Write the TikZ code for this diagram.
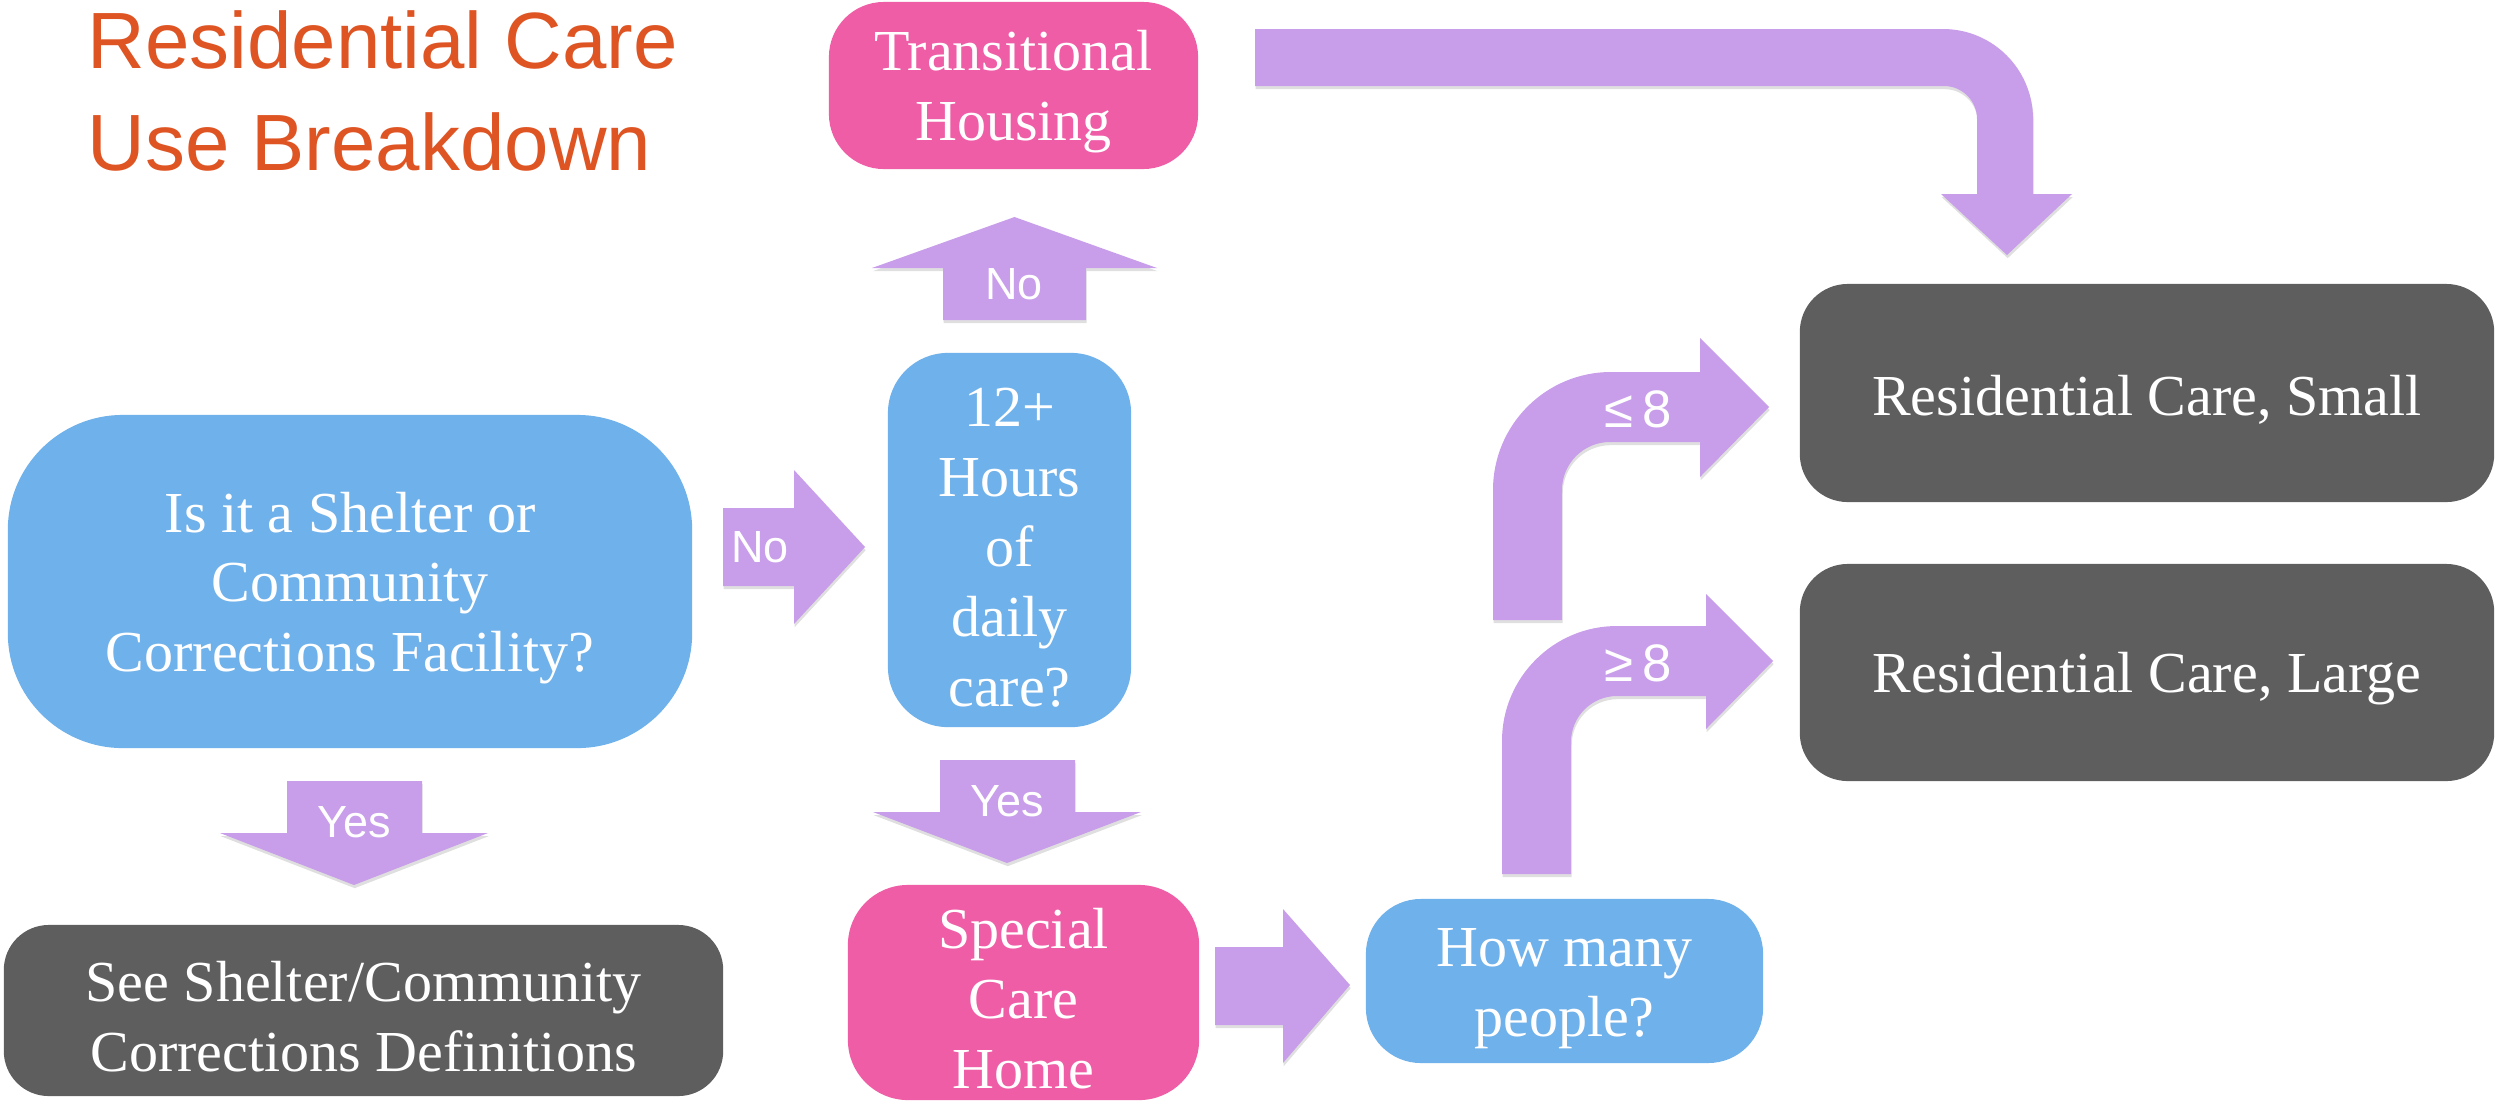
\documentclass[tikz,border=0pt]{standalone}
\usepackage{fontspec}
\setmainfont{Liberation Serif}
\newfontfamily\lsans{Liberation Sans}
\usetikzlibrary{shadows}
\definecolor{pinkbox}{HTML}{EF5DA7}
\definecolor{bluebox}{HTML}{6FB1EA}
\definecolor{graybox}{HTML}{5E5E5E}
\definecolor{arrowc}{HTML}{C89DEA}
\definecolor{titlec}{HTML}{DE5423}
\newcommand\boxfont{\fontsize{16.5}{19.9}\selectfont}
\newcommand\tp{\rule{0pt}{15.2pt}}
\tikzset{
  box/.style={rectangle, rounded corners=#1, text=white, align=center, font=\boxfont, inner sep=0pt},
  blockarrow/.style={fill=arrowc, drop shadow={shadow xshift=0.2pt, shadow yshift=-0.9pt, opacity=0.25}},
  lbl/.style={text=white, inner sep=0pt, font=\lsans\fontsize{12.8}{15}\selectfont},
  cmp/.style={text=white, inner sep=0pt, font=\lsans\fontsize{15}{18}\selectfont},
  ttl/.style={anchor=base west, inner sep=0pt, text=titlec, font=\lsans\fontsize{22.7}{26}\selectfont}
}
\begin{document}
\begin{tikzpicture}[x=0.01cm,y=-0.01cm]
\useasboundingbox (0,0) rectangle (2496,1102);
% title
\node[ttl] (t1) at (87,68) {Residential Care};
\node[ttl] (t2) at (87,170) {Use Breakdown};
% boxes
\node[box=0.55cm, fill=pinkbox, minimum width=3.69cm, minimum height=1.67cm] (tr) at (1013.5,85.5) {\tp Transitional\\Housing};
\node[box=0.6cm, fill=bluebox, minimum width=2.43cm, minimum height=3.74cm] (hrs) at (1009.5,540) {\tp 12+\\Hours\\of\\daily\\care?};
\node[box=1.15cm, fill=bluebox, minimum width=6.84cm, minimum height=3.33cm] (q) at (350,581.5) {\tp Is it a Shelter or\\Community\\Corrections Facility?};
\node[box=0.45cm, fill=graybox, minimum width=7.19cm, minimum height=1.71cm] (see) at (363.5,1010.5) {\tp See Shelter/Community\\Corrections Definitions};
\node[box=0.6cm, fill=pinkbox, minimum width=3.51cm, minimum height=2.15cm] (sch) at (1023.5,992.5) {\tp Special\\Care\\Home};
\node[box=0.55cm, fill=bluebox, minimum width=3.97cm, minimum height=1.64cm] (how) at (1564.5,981) {\tp How many\\people?};
\node[box=0.48cm, fill=graybox, minimum width=6.94cm, minimum height=2.18cm] (small) at (2147,393) {\tp Residential Care, Small};
\node[box=0.48cm, fill=graybox, minimum width=6.94cm, minimum height=2.17cm] (large) at (2147,672.5) {\tp Residential Care, Large};
% block arrows
% No (up)
\path[blockarrow] (943,320) -- (943,268) -- (872,268) -- (1014.5,217) -- (1157,268) -- (1086,268) -- (1086,320) -- cycle;
\node[lbl] (lno1) at (1014,284) {No};
% No (right)
\path[blockarrow] (723,508) -- (794,508) -- (794,470) -- (865,547) -- (794,624) -- (794,586) -- (723,586) -- cycle;
\node[lbl] (lno2) at (760,547) {No};
% Yes (left, down)
\path[blockarrow] (287,781) -- (422,781) -- (422,833) -- (488,833) -- (354,885) -- (220,833) -- (287,833) -- cycle;
\node[lbl] (lyes1) at (354,822) {Yes};
% Yes (right, down)
\path[blockarrow] (940,760) -- (1075,760) -- (1075,812) -- (1141,812) -- (1007,863) -- (873,812) -- (940,812) -- cycle;
\node[lbl] (lyes2) at (1007,801) {Yes};
% Special -> How many
\path[blockarrow] (1215,947) -- (1283,947) -- (1283,909) -- (1350,985) -- (1283,1063) -- (1283,1025) -- (1215,1025) -- cycle;
% top bent arrow
\path[blockarrow] (1255,29) -- (1943,29) .. controls (1992.7,29) and (2033,69.3) .. (2033,119)
  -- (2033,194) -- (2072,194) -- (2007,255) -- (1941,194) -- (1977,194) -- (1977,119)
  .. controls (1977,100.8) and (1962.2,86) .. (1944,86) -- (1255,86) -- cycle;
% <= 8 bent arrow
\path[blockarrow] (1493,620) -- (1493,490) .. controls (1493,424.8) and (1545.8,372) .. (1611,372)
  -- (1700,372) -- (1700,338) -- (1769,407) -- (1700,477) -- (1700,442) -- (1610,442)
  .. controls (1583.5,442) and (1562,463.5) .. (1562,490) -- (1562,620) -- cycle;
\node[cmp] (lle) at (1638,409) {≤\,8};
% >= 8 bent arrow
\path[blockarrow] (1502,874) -- (1502,741) .. controls (1502,677.5) and (1553.5,626) .. (1617,626)
  -- (1706,626) -- (1706,594) -- (1773,661) -- (1706,729) -- (1706,696) -- (1617,696)
  .. controls (1591.6,696) and (1571,716.6) .. (1571,742) -- (1571,874) -- cycle;
\node[cmp] (lge) at (1638,663) {≥\,8};
\end{tikzpicture}
\end{document}
